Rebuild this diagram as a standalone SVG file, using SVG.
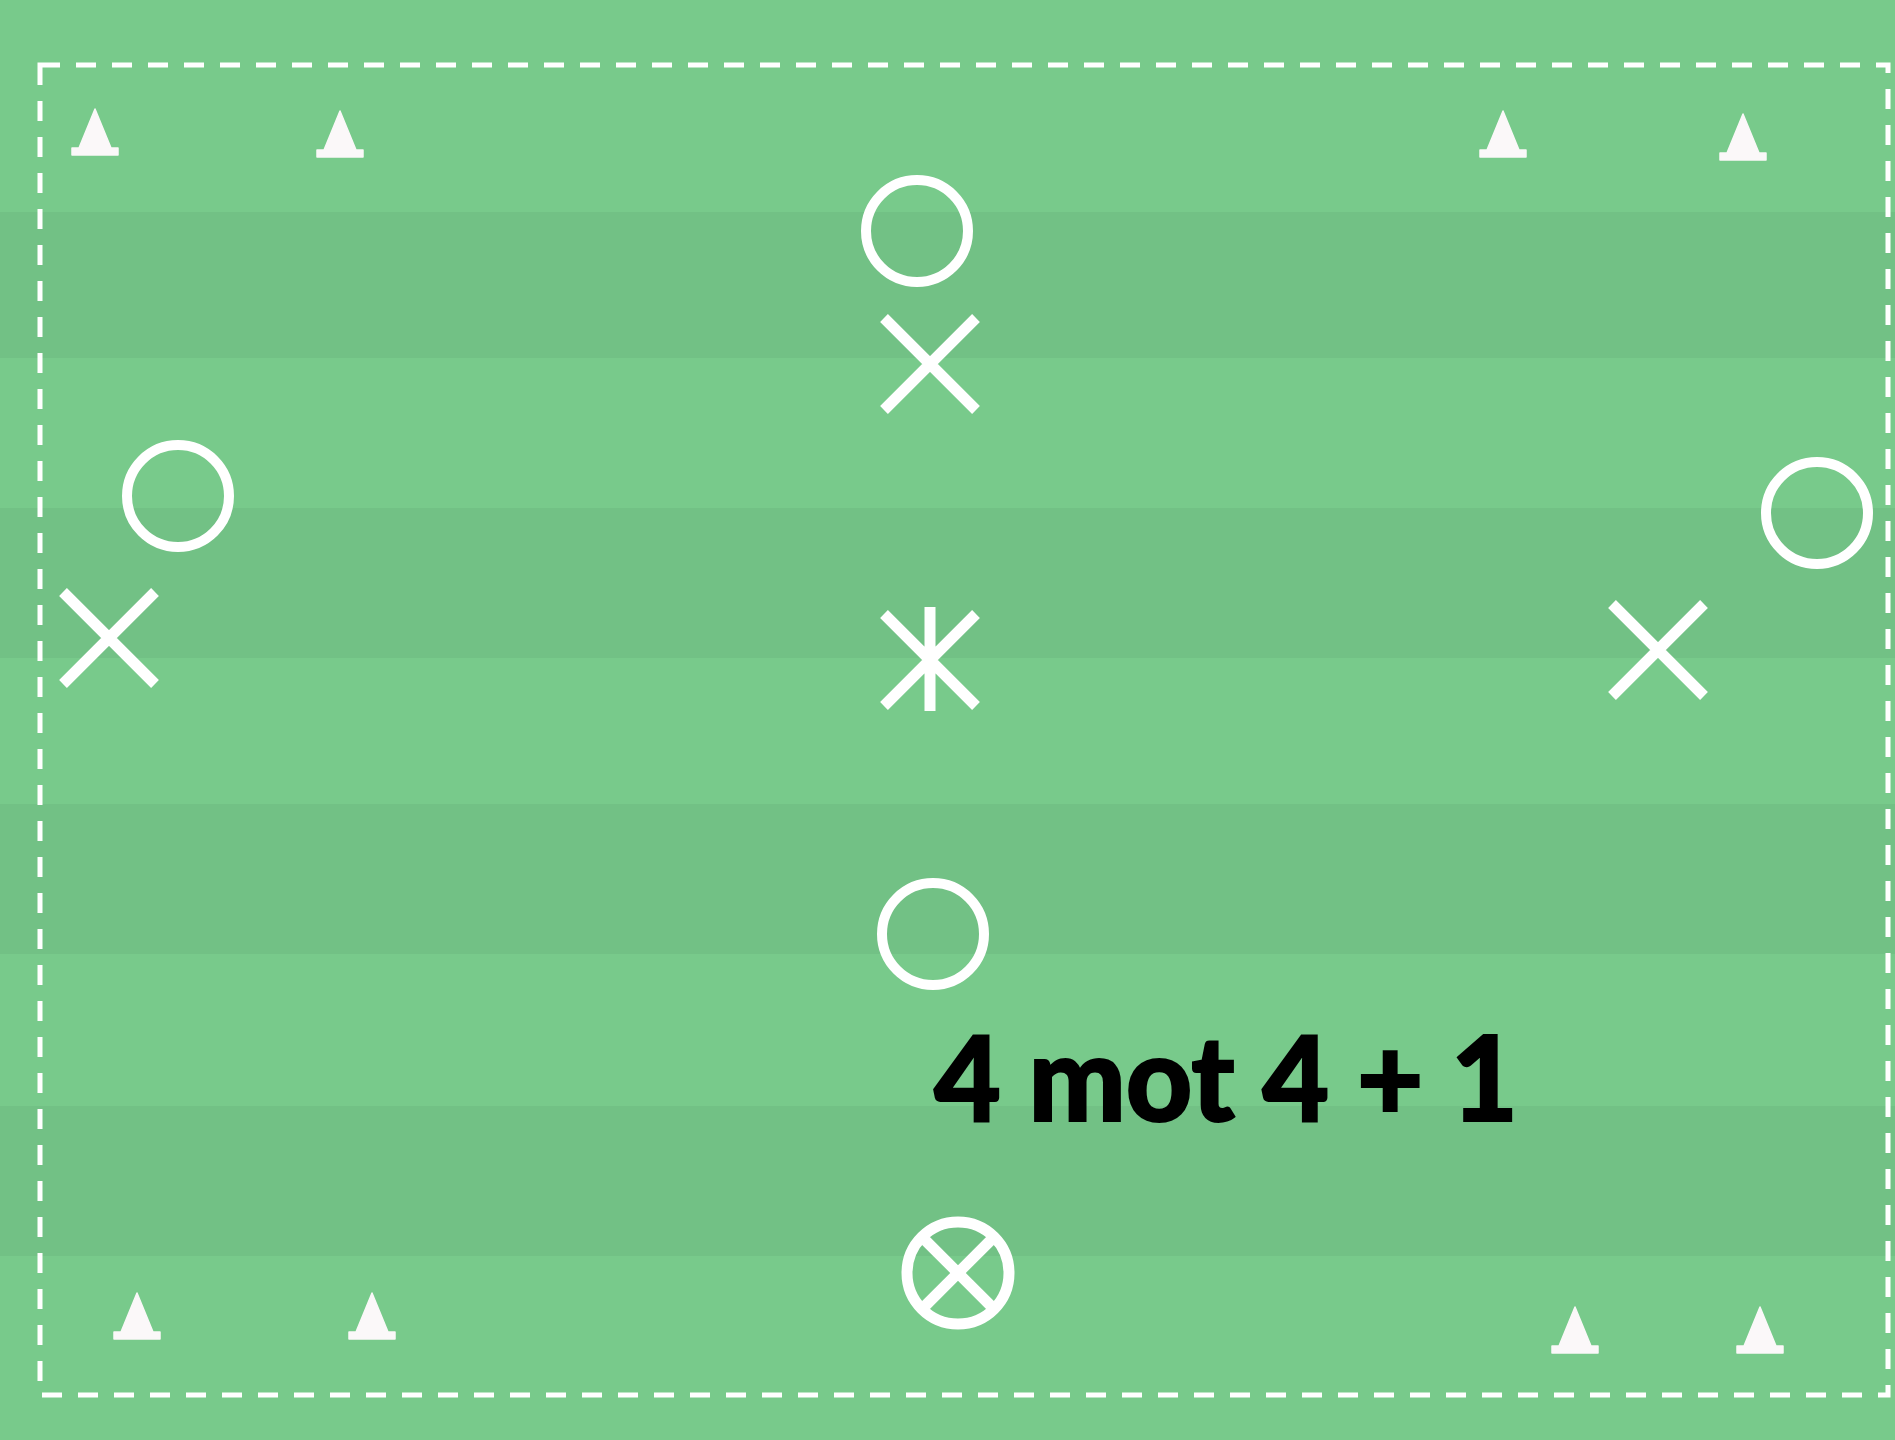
<svg xmlns="http://www.w3.org/2000/svg" width="1895" height="1440" viewBox="0 0 1895 1440">
  <defs>
    <style>
      .mark { fill: none; stroke: #ffffff; stroke-width: 11; }
      .ring { fill: none; stroke: #ffffff; stroke-width: 10; }
      .cone { fill: #fbf8f9; stroke: #fbf8f9; stroke-width: 1.5; stroke-linejoin: round; }
      .label { font-family: Lato, "Open Sans", "Liberation Sans", sans-serif; font-weight: 900; font-size: 118px; fill: #000000; stroke: #000000; stroke-width: 2; }
    </style>
    <g id="coneShape">
      <path class="cone" d="M0,-46 L16,-7 L23,-7 L23,0 L-23,0 L-23,-7 L-16,-7 Z"/>
    </g>
  </defs>

  <g id="pitch">
    <rect x="0" y="0" width="1895" height="1440" fill="#78ca8b"/>
    <rect x="0" y="212" width="1895" height="146" fill="#72c185"/>
    <rect x="0" y="508" width="1895" height="150" fill="#72c185"/>
    <rect x="0" y="804" width="1895" height="150" fill="#72c185"/>
    <rect x="0" y="1106" width="1895" height="150" fill="#72c185"/>
    <rect x="40" y="65" width="1848" height="1330" fill="none" stroke="#ffffff" stroke-width="5" stroke-dasharray="20 16"/>
  </g>

  <g id="cones">
    <use id="cone-tl1" href="#coneShape" x="95" y="155"/>
    <use id="cone-tl2" href="#coneShape" x="340" y="157"/>
    <use id="cone-tr1" href="#coneShape" x="1503" y="157"/>
    <use id="cone-tr2" href="#coneShape" x="1743" y="160"/>
    <use id="cone-bl1" href="#coneShape" x="137" y="1339"/>
    <use id="cone-bl2" href="#coneShape" x="372" y="1339"/>
    <use id="cone-br1" href="#coneShape" x="1575" y="1353"/>
    <use id="cone-br2" href="#coneShape" x="1760" y="1353"/>
  </g>

  <g id="player-o-top"><circle class="ring" cx="917" cy="231" r="51"/></g>
  <g id="player-x-top"><path class="mark" d="M884,318 L976,410 M976,318 L884,410"/></g>

  <g id="player-o-left"><circle class="ring" cx="178" cy="496" r="51"/></g>
  <g id="player-x-left"><path class="mark" d="M63,592 L155,684 M155,592 L63,684"/></g>

  <g id="neutral"><path class="mark" d="M884,614 L976,706 M976,614 L884,706 M930,607 L930,711"/></g>

  <g id="player-o-right"><circle class="ring" cx="1817" cy="513" r="51"/></g>
  <g id="player-x-right"><path class="mark" d="M1612,604 L1704,696 M1704,604 L1612,696"/></g>

  <g id="player-o-bottom"><circle class="ring" cx="933" cy="934" r="51"/></g>

  <g id="ball">
    <circle class="mark" cx="958" cy="1273" r="51"/>
    <path class="mark" d="M925,1240 L991,1306 M991,1240 L925,1306"/>
  </g>

  <g id="title">
    <text class="label" x="934" y="1121" textLength="584" lengthAdjust="spacingAndGlyphs">4 mot 4 + 1</text>
  </g>
</svg>
